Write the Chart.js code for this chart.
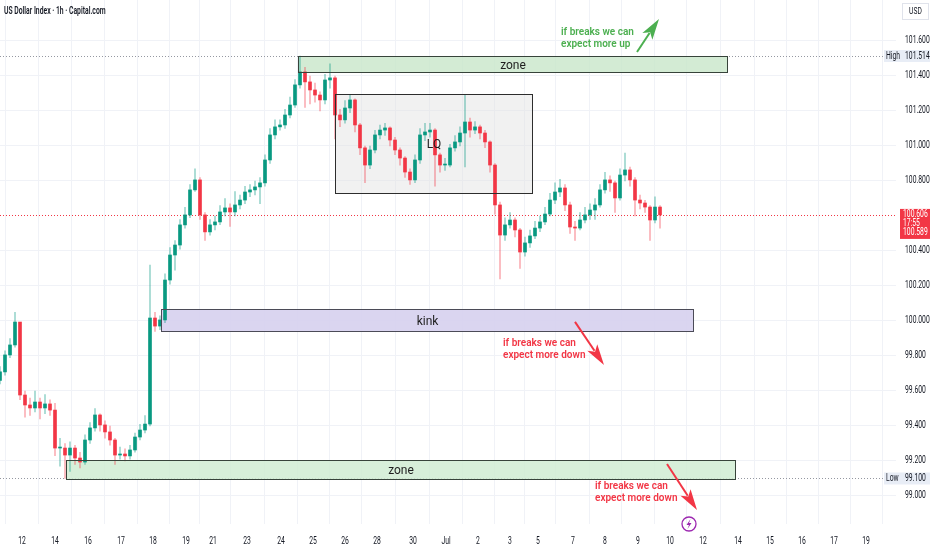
<!DOCTYPE html>
<html>
<head>
<meta charset="utf-8">
<script src="https://cdn.jsdelivr.net/npm/chart.js@4.4.1/dist/chart.umd.min.js"></script>
<style>
  html, body { margin: 0; padding: 0; background: #fff; }
  #wrap { width: 932px; height: 550px; position: relative; }
</style>
</head>
<body>
<div id="wrap"><canvas id="c"></canvas></div>
<script>
// hourly DXY (one bar per ~5px of the original)
const firstOpen = 99.66;
const closes = [
  99.709, 99.806, 99.863, 99.994, 99.577, 99.520, 99.503, 99.537, 99.503, 99.526,
  99.491, 99.274, 99.274, 99.234, 99.274, 99.217, 99.194, 99.320, 99.389, 99.463,
  99.406, 99.366, 99.320, 99.234, 99.240, 99.229, 99.263, 99.337, 99.377, 99.411,
  100.017, 99.971, 100.006, 100.234, 100.377, 100.434, 100.549, 100.606, 100.749, 100.806,
  100.606, 100.509, 100.549, 100.566, 100.623, 100.646, 100.623, 100.663, 100.691, 100.737,
  100.749, 100.766, 100.789, 100.920, 101.063, 101.109, 101.120, 101.177, 101.234, 101.349,
  101.423, 101.366, 101.320, 101.291, 101.263, 101.377, 101.389, 101.177, 101.149, 101.217,
  101.263, 101.120, 100.989, 100.891, 100.977, 101.063, 101.091, 101.103, 101.034, 100.977,
  100.931, 100.851, 100.806, 100.920, 101.063, 101.080, 101.091, 100.949, 100.891, 100.891,
  100.989, 101.023, 101.074, 101.137, 101.091, 101.109, 101.074, 101.023, 100.891, 100.663,
  100.491, 100.549, 100.577, 100.520, 100.394, 100.446, 100.486, 100.531, 100.566, 100.611,
  100.691, 100.737, 100.760, 100.663, 100.537, 100.531, 100.577, 100.606, 100.634, 100.663,
  100.749, 100.806, 100.789, 100.703, 100.834, 100.863, 100.806, 100.691, 100.674, 100.651,
  100.577, 100.651, 100.606
];
const highs = [
  99.74, 99.83, 99.90, 100.05, 99.97, 99.60, 99.56, 99.60, 99.56, 99.58,
  99.55, 99.53, 99.33, 99.30, 99.31, 99.29, 99.25, 99.35, 99.42, 99.50,
  99.47, 99.43, 99.40, 99.33, 99.28, 99.27, 99.29, 99.36, 99.41, 99.46,
  100.32, 100.05, 100.03, 100.27, 100.42, 100.46, 100.58, 100.65, 100.78, 100.87,
  100.82, 100.62, 100.58, 100.60, 100.66, 100.70, 100.67, 100.74, 100.72, 100.77,
  100.78, 100.80, 100.82, 100.95, 101.10, 101.15, 101.15, 101.21, 101.28, 101.38,
  101.514, 101.45, 101.40, 101.36, 101.31, 101.41, 101.47, 101.40, 101.21, 101.26,
  101.29, 101.27, 101.13, 101.00, 101.00, 101.09, 101.12, 101.13, 101.11, 101.05,
  100.99, 100.94, 100.87, 100.95, 101.10, 101.13, 101.13, 101.10, 100.96, 100.93,
  101.01, 101.06, 101.11, 101.29, 101.16, 101.14, 101.12, 101.09, 101.03, 100.90,
  100.68, 100.59, 100.62, 100.59, 100.53, 100.48, 100.52, 100.57, 100.60, 100.65,
  100.73, 100.79, 100.81, 100.78, 100.68, 100.57, 100.62, 100.65, 100.67, 100.70,
  100.78, 100.85, 100.83, 100.80, 100.87, 100.96, 100.88, 100.82, 100.72, 100.69,
  100.66, 100.71, 100.66
];
const lows = [
  99.64, 99.69, 99.79, 99.85, 99.55, 99.45, 99.46, 99.48, 99.44, 99.47,
  99.46, 99.23, 99.17, 99.10, 99.14, 99.18, 99.16, 99.18, 99.30, 99.37,
  99.37, 99.33, 99.29, 99.18, 99.21, 99.20, 99.21, 99.25, 99.32, 99.36,
  99.40, 99.94, 99.95, 99.99, 100.21, 100.29, 100.41, 100.53, 100.59, 100.74,
  100.58, 100.46, 100.49, 100.52, 100.55, 100.60, 100.54, 100.60, 100.64, 100.67,
  100.71, 100.72, 100.67, 100.77, 100.90, 101.04, 101.09, 101.10, 101.16, 101.22,
  101.33, 101.22, 101.24, 101.25, 101.20, 101.24, 101.33, 101.04, 101.11, 101.13,
  101.19, 101.08, 100.95, 100.79, 100.87, 100.96, 101.04, 101.06, 101.00, 100.95,
  100.89, 100.82, 100.78, 100.79, 100.90, 101.03, 101.05, 100.77, 100.85, 100.86,
  100.88, 100.97, 101.00, 100.88, 101.05, 101.07, 101.04, 100.99, 100.85, 100.61,
  100.24, 100.46, 100.53, 100.48, 100.30, 100.37, 100.42, 100.47, 100.51, 100.55,
  100.60, 100.67, 100.71, 100.63, 100.50, 100.46, 100.52, 100.56, 100.58, 100.58,
  100.65, 100.73, 100.74, 100.62, 100.69, 100.80, 100.77, 100.60, 100.64, 100.62,
  100.46, 100.56, 100.53
];

// time axis: bar index where each date label sits
const dayTickAt = [4.4, 11, 17.6, 24.2, 30.6, 37.2, 42.6, 49.4, 56.2, 62.6, 69, 75.4, 82.6, 89.2,
  95.6, 102, 107.6, 114.6, 121, 127.6, 134, 140.6, 147.6, 154, 160.4, 166.8, 173.2];
const dayLabels = ["12", "14", "16", "17", "18", "19", "21", "23", "24", "25", "26", "28", "30", "Jul",
  "2", "3", "5", "7", "8", "9", "10", "12", "14", "15", "16", "17", "19"];
const priceTicks = [99.0, 99.2, 99.4, 99.6, 99.8, 100.0, 100.2, 100.4, 100.8, 101.0, 101.2, 101.4, 101.6];

const lastPrice = 100.606, prevClose = 100.589, countdown = "17:55";
const highPrice = 101.514, lowPrice = 99.100;

const opens = closes.map((c, i) => i === 0 ? firstOpen : closes[i - 1]);
const UP = '#089981', DOWN = '#f23645';
const isUp = i => closes[i] >= opens[i];

// drawings on the chart (bar index / price)
const boxes = [
  { x0: 59.6, x1: 145.4, p0: 101.514, p1: 101.420, fill: 'rgba(200,230,201,0.8)', stroke: '#37433a', text: 'zone' },
  { x0: 67, x1: 106.4, p0: 101.297, p1: 100.731, fill: 'rgba(225,225,225,0.45)', stroke: '#2d2d2d', text: 'LQ' },
  { x0: 32.2, x1: 138.6, p0: 100.069, p1: 99.943, fill: 'rgba(214,208,238,0.9)', stroke: '#4b4b57', text: 'kink' },
  { x0: 13.2, x1: 147, p0: 99.206, p1: 99.097, fill: 'rgba(208,236,210,0.85)', stroke: '#37433a', text: 'zone' }
];
const notes = [
  { x: 112.2, p: 101.651, color: '#4caf50', lines: ['if breaks we can', 'expect more up'],
    arrow: [127.4, 101.537, 131.8, 101.726] },
  { x: 100.6, p: 99.874, color: '#f23645', lines: ['if breaks we can', 'expect more down'],
    arrow: [115, 99.995, 120.8, 99.749] },
  { x: 119, p: 99.057, color: '#f23645', lines: ['if breaks we can', 'expect more down'],
    arrow: [133.4, 99.183, 139.4, 98.92] }
];

// narrow text, the screenshot is squeezed sideways
function sq(ctx, s, x, y, sx, align) {
  ctx.save();
  ctx.translate(x, y); ctx.scale(sx, 1);
  ctx.textAlign = align; ctx.fillText(s, 0, 0);
  ctx.restore();
}

function arrow(ctx, x1, y1, x2, y2, color) {
  const a = Math.atan2(y2 - y1, x2 - x1), L = 21, W = 6;
  const bx = x2 - L * Math.cos(a), by = y2 - L * Math.sin(a);
  ctx.strokeStyle = color; ctx.lineWidth = 2;
  ctx.beginPath(); ctx.moveTo(x1, y1); ctx.lineTo(bx + 4 * Math.cos(a), by + 4 * Math.sin(a)); ctx.stroke();
  ctx.fillStyle = color;
  ctx.beginPath();
  ctx.moveTo(x2, y2);
  ctx.lineTo(bx + W * Math.sin(a), by - W * Math.cos(a));
  ctx.lineTo(bx + 5 * Math.cos(a), by + 5 * Math.sin(a));
  ctx.lineTo(bx - W * Math.sin(a), by + W * Math.cos(a));
  ctx.closePath(); ctx.fill();
}

function dotted(ctx, y, x0, x1, color) {
  ctx.save();
  ctx.strokeStyle = color; ctx.lineWidth = 1; ctx.setLineDash([1, 2]);
  ctx.beginPath(); ctx.moveTo(x0, y + 0.5); ctx.lineTo(x1, y + 0.5); ctx.stroke();
  ctx.restore();
}

function boxPx(b, x, y) {
  return {
    l: Math.round(x.getPixelForValue(b.x0)) + 0.5, r: Math.round(x.getPixelForValue(b.x1)) + 0.5,
    t: Math.round(y.getPixelForValue(b.p0)) + 0.5, b: Math.round(y.getPixelForValue(b.p1)) + 0.5
  };
}

const overlay = {
  id: 'overlay',
  beforeDatasetsDraw(chart) {
    const { ctx, chartArea: ca, scales: { x, y } } = chart;
    ctx.save();
    dotted(ctx, Math.round(y.getPixelForValue(highPrice)), ca.left, ca.right, '#9598a1');
    dotted(ctx, Math.round(y.getPixelForValue(lowPrice)), ca.left, ca.right, '#9598a1');
    dotted(ctx, Math.round(y.getPixelForValue(lastPrice)), ca.left, ca.right, DOWN);
    boxes.forEach(b => {
      const p = boxPx(b, x, y);
      ctx.fillStyle = b.fill; ctx.fillRect(p.l, p.t, p.r - p.l, p.b - p.t);
    });
    ctx.restore();
  },
  afterDatasetsDraw(chart) {
    const { ctx, chartArea: ca, scales: { x, y } } = chart;
    ctx.save();
    boxes.forEach(b => {
      const p = boxPx(b, x, y);
      ctx.strokeStyle = b.stroke; ctx.lineWidth = 1; ctx.strokeRect(p.l, p.t, p.r - p.l, p.b - p.t);
      ctx.fillStyle = '#1e1e1e'; ctx.font = '12px Roboto';
      ctx.textAlign = 'center'; ctx.textBaseline = 'middle';
      ctx.fillText(b.text, (p.l + p.r) / 2, (p.t + p.b) / 2 + 1);
    });
    notes.forEach(n => {
      ctx.fillStyle = n.color; ctx.font = '600 10px Roboto';
      ctx.textAlign = 'left'; ctx.textBaseline = 'middle';
      const px = x.getPixelForValue(n.x), py = y.getPixelForValue(n.p);
      n.lines.forEach((s, k) => ctx.fillText(s, px, py + k * 12));
      const a = n.arrow;
      arrow(ctx, x.getPixelForValue(a[0]), y.getPixelForValue(a[1]),
        x.getPixelForValue(a[2]), y.getPixelForValue(a[3]), n.color);
    });
    // lightning marker on the time axis
    const lx = x.getPixelForValue(137.8), ly = ca.bottom;
    ctx.strokeStyle = '#9c27b0'; ctx.lineWidth = 1.3;
    ctx.beginPath(); ctx.arc(lx, ly, 7, 0, Math.PI * 2); ctx.stroke();
    ctx.fillStyle = '#9c27b0';
    ctx.beginPath();
    ctx.moveTo(lx + 1.5, ly - 5); ctx.lineTo(lx - 2.5, ly + 1); ctx.lineTo(lx, ly + 1);
    ctx.lineTo(lx - 1.5, ly + 5); ctx.lineTo(lx + 2.5, ly - 1); ctx.lineTo(lx, ly - 1);
    ctx.closePath(); ctx.fill();
    ctx.restore();
  },
  afterDraw(chart) {
    const { ctx, scales: { x, y } } = chart;
    ctx.save();
    ctx.textBaseline = 'middle';
    ctx.fillStyle = '#131722';
    // axis labels
    ctx.font = '10px Roboto';
    priceTicks.forEach(v => sq(ctx, v.toFixed(3), 905, y.getPixelForValue(v), 0.68, 'left'));
    dayTickAt.forEach((t, i) => sq(ctx, dayLabels[i], x.getPixelForValue(t), 541, 0.68, 'center'));
    ctx.font = '600 10px Roboto';
    sq(ctx, 'US Dollar Index \u00b7 1h \u00b7 Capital.com', 4, 11, 0.68, 'left');
    // USD box
    ctx.fillStyle = '#fff'; ctx.strokeStyle = '#e0e3eb';
    ctx.fillRect(902.5, 3.5, 26, 16); ctx.strokeRect(902.5, 3.5, 26, 16);
    ctx.fillStyle = '#131722'; ctx.font = '9px Roboto';
    sq(ctx, 'USD', 915.5, 12, 0.75, 'center');
    // high / low tags
    [[highPrice, 'High'], [lowPrice, 'Low']].forEach(([p, s]) => {
      const py = y.getPixelForValue(p);
      ctx.fillStyle = '#e8edf6';
      ctx.fillRect(884, py - 6, 46, 12);
      ctx.fillStyle = '#131722'; ctx.font = '10px Roboto';
      sq(ctx, s, 886, py, 0.68, 'left');
      sq(ctx, p.toFixed(3), 905, py, 0.68, 'left');
    });
    // last price box
    const py = y.getPixelForValue(lastPrice);
    ctx.fillStyle = DOWN;
    ctx.fillRect(900, py - 6, 30, 30);
    ctx.fillStyle = '#fff'; ctx.font = '10px Roboto';
    sq(ctx, lastPrice.toFixed(3), 903, py, 0.68, 'left');
    sq(ctx, countdown, 903, py + 9, 0.68, 'left');
    sq(ctx, prevClose.toFixed(3), 903, py + 18, 0.68, 'left');
    ctx.restore();
  }
};

new Chart(document.getElementById('c'), {
  type: 'bar',
  data: {
    datasets: [
      {
        label: 'wick',
        data: closes.map((c, i) => ({ x: i, y: [lows[i], highs[i]] })),
        backgroundColor: ctx => isUp(ctx.dataIndex) ? 'rgba(8,153,129,0.4)' : 'rgba(242,54,69,0.4)',
        barThickness: 1,
        grouped: false,
        order: 2
      },
      {
        label: 'body',
        data: closes.map((c, i) => ({ x: i, y: [opens[i], c] })),
        backgroundColor: ctx => isUp(ctx.dataIndex) ? UP : DOWN,
        barThickness: 3,
        minBarLength: 1,
        grouped: false,
        order: 1
      }
    ]
  },
  options: {
    responsive: true,
    maintainAspectRatio: false,
    animation: false,
    layout: { padding: 0 },
    plugins: { legend: { display: false }, tooltip: { enabled: false } },
    scales: {
      x: {
        type: 'linear',
        min: 0,
        max: 179.2,
        offset: false,
        afterFit(s) { s.height = 26; s.paddingLeft = 0; s.paddingRight = 0; },
        afterBuildTicks(s) { s.ticks = dayTickAt.map(v => ({ value: v })); },
        ticks: { display: false },
        grid: { color: '#f0f2f7', drawTicks: false },
        border: { display: false }
      },
      y: {
        position: 'right',
        min: 98.84,
        max: 101.834,
        afterFit(s) { s.width = 36; s.paddingTop = 0; s.paddingBottom = 0; },
        afterBuildTicks(s) { s.ticks = priceTicks.map(v => ({ value: v })); },
        ticks: { display: false },
        grid: { color: '#f0f2f7', drawTicks: false },
        border: { display: false }
      }
    }
  },
  plugins: [overlay]
});
</script>
</body>
</html>
